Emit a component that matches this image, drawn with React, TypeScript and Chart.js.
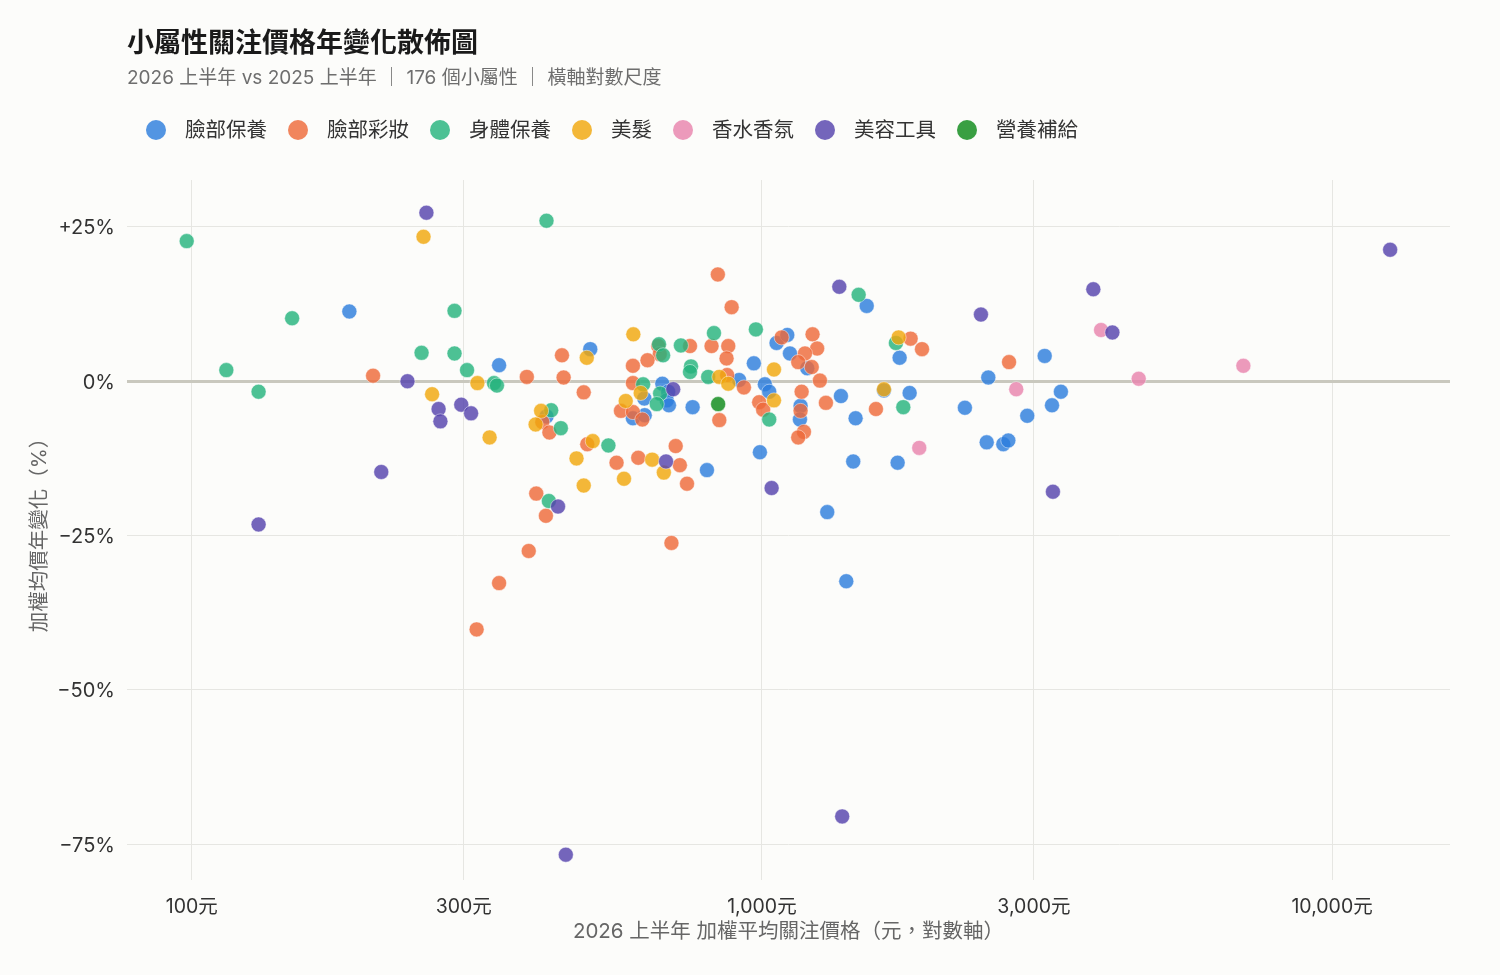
import React, { useEffect, useRef } from 'react';
import Chart from 'chart.js/auto';

const FONT = 'Inter, "Noto Sans CJK TC", sans-serif';

const categories = ['臉部保養', '臉部彩妝', '身體保養', '美髮', '香水香氛', '美容工具', '營養補給'];
const colors = [
	'rgba(45, 126, 221, 0.82)',
	'rgba(238, 106, 59, 0.82)',
	'rgba(38, 179, 126, 0.82)',
	'rgba(240, 167, 14, 0.82)',
	'rgba(232, 132, 173, 0.82)',
	'rgba(85, 67, 173, 0.82)',
	'rgba(14, 138, 26, 0.82)',
];

// [price, yoy change %]
const faceCare: [number, number][] = [
	[189, 11.3], [346, 2.6], [500, 5.2], [419, -5.7], [669, -0.4], [685, -1.7], [622, -2.8], [681, -3.1],
	[687, -3.9], [756, -4.2], [594, -6.0], [623, -5.5], [801, -14.4], [968, 2.9], [1061, 6.2], [1108, 7.5],
	[1120, 4.5], [912, 0.2], [1012, -0.5], [1030, -1.7], [992, -11.5], [1169, -4.0], [1166, -6.2], [1201, 2.1],
	[1302, -21.2], [1406, -32.4], [1376, -2.4], [1460, -6.0], [1446, -13.0], [1527, 12.2], [1744, 3.8], [1637, -1.5],
	[1816, -1.9], [1730, -13.2], [2270, -4.3], [2495, 0.6], [2479, -9.9], [2651, -10.2], [2705, -9.6], [2920, -5.6],
	[3133, 4.1], [3345, -1.7], [3227, -3.9],
];
const faceMakeup: [number, number][] = [
	[208, 0.9], [387, 0.7], [446, 4.2], [449, 0.6], [487, -1.8], [412, -6.6], [424, -8.3], [494, -10.2],
	[566, -4.8], [556, -13.2], [402, -18.2], [418, -21.8], [390, -27.5], [346, -32.7], [316, -40.2], [694, -26.2],
	[837, 17.3], [885, 12.0], [658, 5.7], [662, 4.4], [748, 5.7], [816, 5.7], [873, 5.7], [867, 3.7],
	[630, 3.4], [594, 2.5], [594, -0.3], [869, 1.0], [930, -1.0], [594, -5.0], [617, -6.2], [607, -12.4],
	[706, -10.5], [718, -13.6], [739, -16.6], [842, -6.3], [989, -3.4], [1005, -4.6], [1083, 7.1], [1227, 7.6],
	[1250, 5.3], [1190, 4.5], [1158, 3.1], [1223, 2.3], [1264, 0.1], [1174, -1.7], [1169, -4.8], [1185, -8.2],
	[1158, -9.1], [1295, -3.5], [1585, -4.5], [1823, 6.9], [1909, 5.2], [2713, 3.1],
];
const bodyCare: [number, number][] = [
	[98, 22.7], [150, 10.2], [115, 1.8], [131, -1.7], [253, 4.6], [289, 11.4], [289, 4.5], [304, 1.8],
	[339, -0.3], [343, -0.7], [419, 26.0], [427, -4.7], [444, -7.6], [423, -19.4], [538, -10.4], [660, 6.0],
	[671, 4.2], [721, 5.8], [751, 2.4], [748, 1.5], [805, 0.7], [824, 7.8], [976, 8.4], [619, -0.5],
	[663, -2.0], [654, -3.7], [1030, -6.2], [1478, 14.0], [1718, 6.2], [1770, -4.2],
];
const hair: [number, number][] = [
	[255, 23.4], [264, -2.1], [317, -0.3], [333, -9.1], [410, -4.8], [401, -7.0], [473, -12.5], [505, -9.7],
	[493, 3.8], [487, -16.9], [573, -15.8], [577, -3.2], [613, -1.9], [595, 7.6], [642, -12.7], [673, -14.8],
	[842, 0.7], [873, -0.4], [1050, 1.9], [1050, -3.1], [1737, 7.1], [1637, -1.3],
];
const fragrance: [number, number][] = [
	[2793, -1.3], [1888, -10.8], [3934, 8.3], [4580, 0.4], [6989, 2.5],
];
const beautyTools: [number, number][] = [
	[239, 0.0], [215, -14.7], [131, -23.2], [258, 27.3], [271, -4.5], [273, -6.5], [297, -3.8], [309, -5.2],
	[439, -20.3], [453, -76.7], [699, -1.3], [679, -13.0], [1040, -17.3], [1367, 15.3], [1383, -70.5], [2422, 10.8],
	[3813, 14.9], [4118, 7.9], [3239, -17.9], [12643, 21.3],
];
const supplements: [number, number][] = [[838, -3.7]];

const series = [faceCare, faceMakeup, bodyCare, hair, fragrance, beautyTools, supplements];

const xTicks = [100, 300, 1000, 3000, 10000];
const yTicks = [-75, -50, -25, 0, 25];

const ScatterChart: React.FC = () => {
	const canvasRef = useRef<HTMLCanvasElement>(null);
	const chartRef = useRef<Chart | null>(null);

	useEffect(() => {
		if (!canvasRef.current) return;
		if (chartRef.current) chartRef.current.destroy();

		chartRef.current = new Chart(canvasRef.current, {
			type: 'scatter',
			data: {
				datasets: series.map((pts, i) => ({
					label: categories[i],
					data: pts.map(([x, y]) => ({ x, y })),
					backgroundColor: colors[i],
					borderColor: 'rgba(255, 255, 255, 0.45)',
					borderWidth: 1,
					pointRadius: 7.5,
					pointHoverRadius: 7.5,
					order: series.length - i,
				})),
			},
			options: {
				animation: false,
				responsive: false,
				layout: { padding: { top: 180, right: 50, bottom: 0, left: 0 } },
				plugins: {
					legend: { display: false },
					tooltip: { enabled: false },
				},
				scales: {
					x: {
						type: 'logarithmic',
						min: 77,
						max: 16100,
						afterBuildTicks: (scale: any) => {
							scale.ticks = xTicks.map((v) => ({ value: v }));
						},
						afterFit: (scale: any) => {
							scale.height = 95;
						},
						ticks: {
							autoSkip: false,
							maxRotation: 0,
							padding: 15,
							color: '#333',
							font: { family: FONT, size: 19.5 },
							callback: (v: any) => Number(v).toLocaleString('en-US') + '元',
						},
						grid: { color: '#e6e6e2', lineWidth: 1, drawTicks: false },
						border: { display: false },
						title: {
							display: true,
							text: '2026 上半年 加權平均關注價格（元，對數軸）',
							color: '#666',
							font: { family: FONT, size: 20.5 },
							padding: { top: 0, bottom: 31 },
						},
					},
					y: {
						min: -80.8,
						max: 32.6,
						afterBuildTicks: (scale: any) => {
							scale.ticks = yTicks.map((v) => ({ value: v }));
						},
						afterFit: (scale: any) => {
							scale.width = 127;
						},
						ticks: {
							padding: 12,
							labelOffset: 1.5,
							color: '#333',
							font: { family: FONT, size: 20 },
							callback: (v: any) => (v > 0 ? `+${v}%` : v < 0 ? `−${Math.abs(v)}%` : '0%'),
						},
						grid: {
							color: (ctx: any) => (ctx.tick && ctx.tick.value === 0 ? '#c9c8be' : '#e6e6e2'),
							lineWidth: (ctx: any) => (ctx.tick && ctx.tick.value === 0 ? 3 : 1),
							drawTicks: false,
						},
						border: { display: false },
						title: {
							display: true,
							text: '加權均價年變化（%）',
							color: '#666',
							font: { family: FONT, size: 20.5 },
							padding: { top: 28, bottom: 0 },
						},
					},
				},
			},
		});

		return () => {
			if (chartRef.current) {
				chartRef.current.destroy();
				chartRef.current = null;
			}
		};
	}, []);

	return <canvas ref={canvasRef} width={1500} height={975} style={{ position: 'absolute', left: 0, top: 0 }} />;
};

export default function App() {
	return (
		<div
			style={{
				position: 'fixed',
				left: 0,
				top: 0,
				width: 1500,
				height: 975,
				background: '#fcfcfa',
				fontFamily: FONT,
				overflow: 'hidden',
			}}
		>
			<ScatterChart />
			<div
				style={{
					position: 'absolute',
					left: 127,
					top: 29,
					fontSize: 27,
					lineHeight: '28px',
					fontWeight: 700,
					color: '#1a1a1a',
				}}
			>
				小屬性關注價格年變化散佈圖
			</div>
			<div
				style={{
					position: 'absolute',
					left: 127,
					top: 67,
					fontSize: 19,
					lineHeight: '22px',
					color: '#6e6e6e',
					whiteSpace: 'pre',
				}}
			>
				2026 上半年 vs 2025 上半年 ｜ 176 個小屬性 ｜ 橫軸對數尺度
			</div>
			<div
				style={{
					position: 'absolute',
					left: 146,
					top: 118,
					height: 24,
					display: 'flex',
					alignItems: 'center',
				}}
			>
				{categories.map((name, i) => (
					<div key={name} style={{ display: 'flex', alignItems: 'center', marginRight: 21 }}>
						<span
							style={{
								display: 'inline-block',
								width: 20,
								height: 20,
								borderRadius: '50%',
								background: colors[i],
								marginRight: 19,
							}}
						/>
						<span style={{ fontSize: 20.5, lineHeight: '24px', color: '#333' }}>{name}</span>
					</div>
				))}
			</div>
		</div>
	);
}
